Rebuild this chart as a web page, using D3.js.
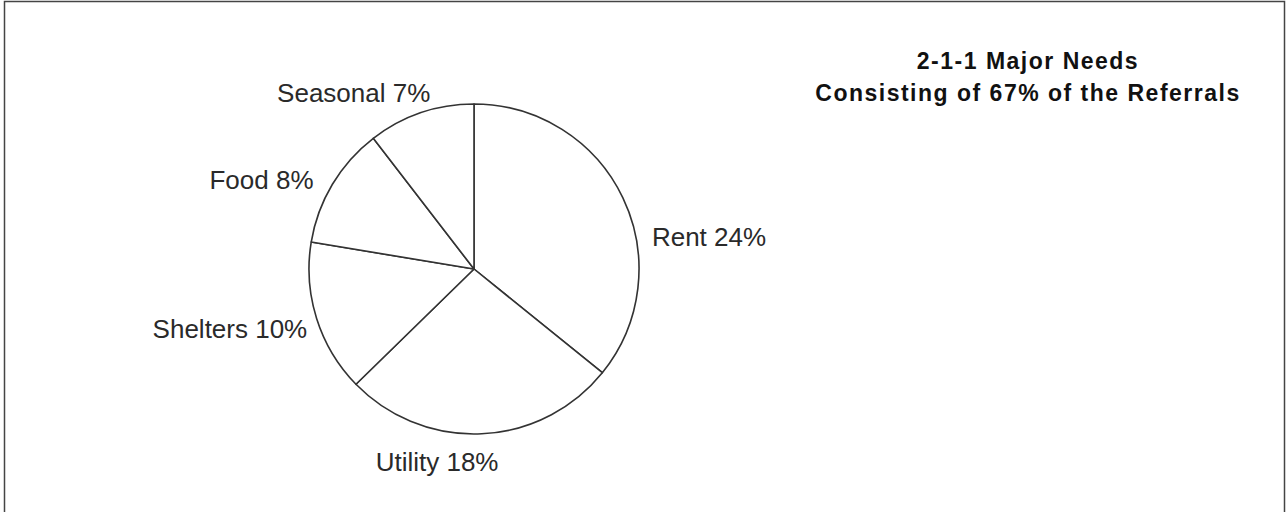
<!DOCTYPE html>
<html>
<head>
<meta charset="utf-8">
<script src="https://cdn.jsdelivr.net/npm/d3@7"></script>
<style>
  html, body { margin: 0; padding: 0; background: #fff; }
  svg { display: block; }
</style>
</head>
<body>
<svg id="chart"></svg>
<script>
// chart data
const categories = ['Rent', 'Utility', 'Shelters', 'Food', 'Seasonal'];
const percents = [24, 18, 10, 8, 7];
const titleLines = ['2-1-1 Major Needs', 'Consisting of 67% of the Referrals'];

// layout
const width = 1286, height = 512;
const cx = 474, cy = 269, radius = 165;
const labelRadius = 215;
// nudge of each label from its mid-angle point (text centre / baseline)
const labelNudge = [[41, 70], [-47, -13], [-39, 4], [-28, 30], [-51, 37]];

const svg = d3.select('#chart')
  .attr('width', width)
  .attr('height', height);

// outer frame
svg.append('rect')
  .attr('x', 4.5)
  .attr('y', 1.5)
  .attr('width', 1280)
  .attr('height', 530)
  .attr('fill', '#fff')
  .attr('stroke', '#444')
  .attr('stroke-width', 1.5);

const slices = d3.pie().sort(null)(percents);

const arc = d3.arc().innerRadius(0).outerRadius(radius);
const labelArc = d3.arc().innerRadius(labelRadius).outerRadius(labelRadius);

const g = svg.append('g').attr('transform', `translate(${cx},${cy})`);

g.selectAll('path.slice')
  .data(slices)
  .enter()
  .append('path')
  .attr('class', 'slice')
  .attr('d', arc)
  .attr('fill', '#fff')
  .attr('stroke', '#333')
  .attr('stroke-width', 1.6)
  .attr('stroke-linejoin', 'round');

g.selectAll('text.label')
  .data(slices)
  .enter()
  .append('text')
  .attr('class', 'label')
  .attr('x', (d, i) => labelArc.centroid(d)[0] + labelNudge[i][0])
  .attr('y', (d, i) => labelArc.centroid(d)[1] + labelNudge[i][1])
  .attr('text-anchor', 'middle')
  .style('font-family', 'Arial, "Liberation Sans", sans-serif')
  .style('font-size', '26px')
  .attr('fill', '#2a2a2a')
  .text((d, i) => `${categories[i]} ${percents[i]}%`);

// title
svg.append('text')
  .attr('x', 1028)
  .attr('y', 69)
  .attr('text-anchor', 'middle')
  .style('font-family', 'Arial, "Liberation Sans", sans-serif')
  .style('font-size', '23px')
  .style('font-weight', 'bold')
  .style('letter-spacing', '1.5px')
  .attr('fill', '#111')
  .selectAll('tspan')
  .data(titleLines)
  .enter()
  .append('tspan')
  .attr('x', 1028)
  .attr('dy', (d, i) => i === 0 ? 0 : 32)
  .text(d => d);
</script>
</body>
</html>
